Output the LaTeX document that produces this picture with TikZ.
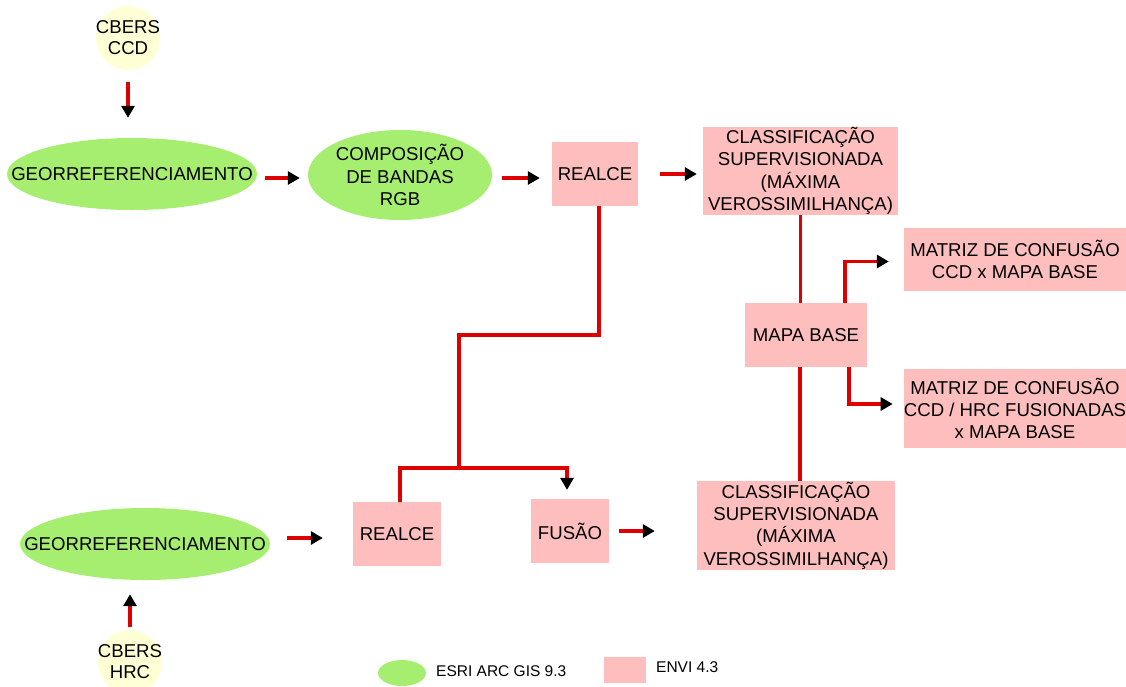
\documentclass[tikz,border=0pt]{standalone}
\usepackage{fontspec}
\setmainfont{Liberation Sans}
\usetikzlibrary{arrows.meta,shapes.geometric}
\definecolor{gr}{RGB}{166,238,112}
\definecolor{pk}{RGB}{255,190,190}
\definecolor{yl}{RGB}{255,255,214}
\definecolor{rd}{RGB}{222,0,0}
\tikzset{
  txt/.style={font=\fontsize{18.6}{22.4}\selectfont, align=center, text=black, inner sep=0pt},
  ell/.style={ellipse, fill=gr, inner sep=0pt},
  box/.style={txt, rectangle, fill=pk, inner sep=0pt},
  src/.style={circle, fill=yl, inner sep=0pt, minimum size=64pt},
  ln/.style={draw=rd, line width=3.2pt},
  arr/.style={ln, -{Triangle[color=black, length=12pt, width=13pt]}},
  leg/.style={font=\fontsize{15.5}{18}\selectfont, anchor=west, inner sep=0pt}
}
\begin{document}
\begin{tikzpicture}[x=1pt, y=-1pt]
\useasboundingbox (0,0) rectangle (1126,686);
% source circles
\node[src] (ccd) at (128,38) {};
\node[txt, font=\fontsize{18.6}{21}\selectfont] (ccdtxt) at (ccd) {CBERS\\CCD};
\node[src] (hrc) at (130,662) {};
\node[txt, font=\fontsize{18.6}{21}\selectfont] (hrctxt) at (hrc) {CBERS\\HRC};
% ellipses
\node[ell, minimum width=250pt, minimum height=72pt] (geo1) at (132,174) {};
\node[txt] (geo1txt) at (geo1) {GEORREFERENCIAMENTO};
\node[ell, minimum width=184pt, minimum height=90pt] (comp) at (400,175) {};
\node[txt] (comptxt) at (comp) {COMPOSIÇÃO\\DE BANDAS\\RGB};
\node[ell, minimum width=250pt, minimum height=72pt] (geo2) at (145,544) {};
\node[txt] (geo2txt) at (geo2) {GEORREFERENCIAMENTO};
% boxes
\node[box, minimum width=86pt, minimum height=64pt] (realce1) at (595,174) {REALCE};
\node[box, minimum width=195pt, minimum height=88pt] (class1) at (800.5,171) {CLASSIFICAÇÃO\\SUPERVISIONADA\\(MÁXIMA\\VEROSSIMILHANÇA)};
\node[box, minimum width=122pt, minimum height=64pt] (mapa) at (806,335) {MAPA BASE};
\node[box, minimum width=222pt, minimum height=63pt] (mat1) at (1015,259.5) {MATRIZ DE CONFUSÃO\\CCD x MAPA BASE};
\node[box, minimum width=222pt, minimum height=79pt] (mat2) at (1015,408.5) {MATRIZ DE CONFUSÃO\\CCD / HRC FUSIONADAS\\x MAPA BASE};
\node[box, minimum width=198pt, minimum height=89pt] (class2) at (796,525.5) {CLASSIFICAÇÃO\\SUPERVISIONADA\\(MÁXIMA\\VEROSSIMILHANÇA)};
\node[box, minimum width=78pt, minimum height=64pt] (fusao) at (570,531) {FUSÃO};
\node[box, minimum width=88pt, minimum height=64pt] (realce2) at (397,534) {REALCE};
% legend
\node[ellipse, fill=gr, minimum width=48pt, minimum height=26pt, inner sep=0pt] (lgell) at (402,673) {};
\node[leg] (lgelltxt) at (436,671) {ESRI ARC GIS 9.3};
\node[rectangle, fill=pk, minimum width=42pt, minimum height=26pt, inner sep=0pt] (lgbox) at (625,670) {};
\node[leg] (lgboxtxt) at (656,667) {ENVI 4.3};
% coordinates
\coordinate (k) at (459,335);
\coordinate (j) at (459,468);
% connectors
\draw[arr, shorten <=12pt, shorten >=20pt] (ccd.south) -- (ccd.south |- geo1.north);
\draw[arr, shorten <=3pt, shorten >=14pt] (hrc.north) -- (hrc.north |- geo2.south);
\draw[arr, shorten <=8pt, shorten >=8pt] ([yshift=-4pt]geo1.east) -- ([yshift=-4pt]geo1.east -| comp.west);
\draw[arr, shorten <=10pt, shorten >=12pt] ([yshift=-3pt]comp.east) -- ([yshift=-3pt]comp.east -| realce1.west);
\draw[arr, shorten <=22pt, shorten >=6pt] (realce1.east) -- (realce1.east -| class1.west);
\draw[arr, shorten <=10pt, shorten >=42pt] (fusao.east) -- (fusao.east -| class2.west);
\draw[arr, shorten <=17pt, shorten >=30pt] ([yshift=6pt]geo2.east) -- ([yshift=6pt]geo2.east -| realce2.west);
\draw[ln] ([xshift=4pt]realce1.south) |- (k) -- (j);
\draw[ln] (j) -| ([xshift=3pt]realce2.north);
\draw[arr] (j) -| ([xshift=-3pt, yshift=9pt]fusao.north);
\draw[ln] (class1.south) -- (class1.south |- mapa.north);
\draw[ln] ([xshift=-6pt]mapa.south) -- ([xshift=-6pt]mapa.south |- class2.north);
\draw[arr] ([xshift=39pt]mapa.north) |- ([xshift=-15pt, yshift=-2pt]mat1.west);
\draw[arr] ([xshift=43pt]mapa.south) |- ([xshift=-11pt, yshift=4.5pt]mat2.west);
\end{tikzpicture}
\end{document}
